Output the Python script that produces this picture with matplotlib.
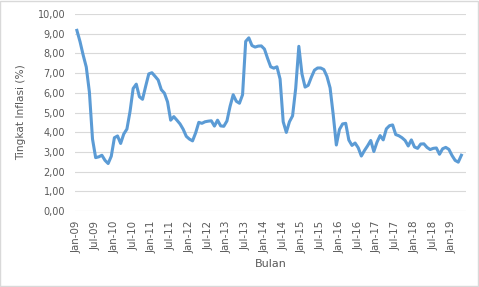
import matplotlib

matplotlib.use("Agg")
import matplotlib.pyplot as plt
from matplotlib.patches import Rectangle
from matplotlib.ticker import FuncFormatter

# monthly year-on-year inflation, Jan-2009 .. Apr-2019
INFLASI = [
    9.17, 8.60, 7.92, 7.31, 6.04, 3.65, 2.71, 2.75, 2.83, 2.57, 2.41, 2.78,
    3.72, 3.81, 3.43, 3.91, 4.16, 5.05, 6.22, 6.44, 5.80, 5.67, 6.33, 6.96,
    7.02, 6.84, 6.65, 6.16, 5.98, 5.54, 4.61, 4.79, 4.61, 4.42, 4.15, 3.79,
    3.65, 3.56, 3.97, 4.50, 4.45, 4.53, 4.56, 4.58, 4.31, 4.61, 4.32, 4.30,
    4.57, 5.31, 5.90, 5.57, 5.47, 5.90, 8.61, 8.79, 8.40, 8.32, 8.37, 8.38,
    8.22, 7.75, 7.32, 7.25, 7.32, 6.70, 4.53, 3.99, 4.53, 4.83, 6.23, 8.36,
    6.96, 6.29, 6.38, 6.79, 7.15, 7.26, 7.26, 7.18, 6.83, 6.25, 4.89, 3.35,
    4.14, 4.42, 4.45, 3.60, 3.33, 3.45, 3.21, 2.79, 3.07, 3.31, 3.58, 3.02,
    3.49, 3.83, 3.61, 4.17, 4.33, 4.37, 3.88, 3.82, 3.72, 3.58, 3.30, 3.61,
    3.25, 3.18, 3.40, 3.41, 3.23, 3.12, 3.18, 3.20, 2.88, 3.16, 3.23, 3.13,
    2.82, 2.57, 2.48, 2.83,
]
TICK_LABELS = [f"{m}-{y:02d}" for y in range(9, 20) for m in ("Jan", "Jul")][:21]

GREY_TXT = "#595959"

fig = plt.figure(figsize=(4.79, 2.87), dpi=100)
ax = fig.add_axes([0.1566, 0.2648, 0.8164, 0.6864])

ax.plot(range(len(INFLASI)), INFLASI, color="#5B9BD5", lw=2.2, solid_joinstyle="round")

ax.set_ylim(0, 10)
ax.set_yticks(range(0, 11))
ax.yaxis.set_major_formatter(FuncFormatter(lambda v, _: f"{v:.2f}".replace(".", ",")))
ax.set_xlim(-0.6, 124.5)
ax.set_xticks(range(0, 6 * len(TICK_LABELS), 6))
ax.set_xticklabels(TICK_LABELS, rotation=90)
ax.tick_params(axis="x", length=0, labelsize=7.4, colors=GREY_TXT, pad=7)
ax.tick_params(axis="y", length=0, labelsize=7, colors=GREY_TXT, pad=7)
ax.grid(axis="y", color="#d9d9d9", lw=0.8)
ax.set_axisbelow(True)
for s in ax.spines.values():
    s.set_visible(False)

ax.set_ylabel("Tingkat Inflasi (%)", fontsize=7.6, color=GREY_TXT, labelpad=8)
ax.set_xlabel("Bulan", fontsize=8, color=GREY_TXT, labelpad=4)

fig.patches.append(Rectangle((0.001, 0.002), 0.997, 0.995, transform=fig.transFigure,
                             fill=False, edgecolor="#d9d9d9", lw=1))

fig.savefig("out.png", dpi=100)
